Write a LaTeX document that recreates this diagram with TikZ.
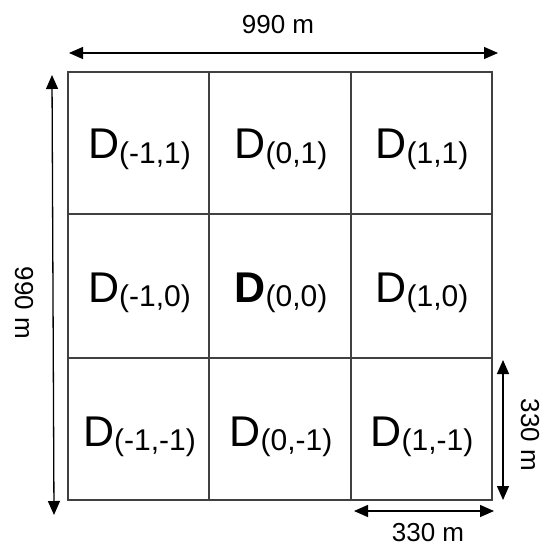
\documentclass[tikz,border=0pt]{standalone}
\usepackage{fontspec}
\setmainfont{Liberation Sans}
\usetikzlibrary{arrows.meta}
\tikzset{
  cellline/.style={draw=black!75, line width=1.3pt},
  dimarrow/.style={draw=black, line width=1.3pt, {Triangle[length=14pt,width=12pt]}-{Triangle[length=14pt,width=12pt]}},
  dimlabel/.style={font=\fontsize{26}{29}\selectfont, inner sep=0pt},
  celllabel/.style={inner sep=0pt, anchor=base, font=\fontsize{43}{48}\selectfont}
}
\newcommand{\cellsub}[1]{\raisebox{-4.5pt}{\fontsize{30}{34}\selectfont #1}}
\begin{document}
\begin{tikzpicture}[x=1pt,y=-1pt]
\useasboundingbox (0,0) rectangle (544,548);
\fill[white] (0,0) rectangle (544,548);
% grid
\coordinate (tl) at (68,72);
\coordinate (br) at (492,500);
\draw[cellline] (tl) rectangle (br);
\draw[cellline] (209,72) -- (209,500);
\draw[cellline] (351,72) -- (351,500);
\draw[cellline] (68,214) -- (492,214);
\draw[cellline] (68,358) -- (492,358);
% labels
\node[celllabel] (m1p1) at (139.5,159) {D\cellsub{(-1,1)}};
\node[celllabel] (z0p1) at (281,159) {D\cellsub{(0,1)}};
\node[celllabel] (p1p1) at (422,159) {D\cellsub{(1,1)}};
\node[celllabel] (m1z0) at (139.5,302) {D\cellsub{(-1,0)}};
\node[celllabel] (z0z0) at (281,302) {\textbf{D}\cellsub{(0,0)}};
\node[celllabel] (p1z0) at (422,302) {D\cellsub{(1,0)}};
\node[celllabel] (m1m1) at (139.5,446) {D\cellsub{(-1,-1)}};
\node[celllabel] (z0m1) at (281,446) {D\cellsub{(0,-1)}};
\node[celllabel] (p1m1) at (422,446) {D\cellsub{(1,-1)}};
% dimension arrows
\coordinate (ta) at (69,53);
\coordinate (tb) at (498,53);
\draw[dimarrow] (ta) -- (tb);
\node[dimlabel] (tlab) at (278,25) {990 m};
\coordinate (la) at (52,75);
\coordinate (lb) at (54,515);
\draw[dimarrow] (la) -- (lb);
\node[dimlabel, rotate=-90] (llab) at (24,303) {990 m};
\coordinate (ra) at (503,360);
\coordinate (rb) at (503,500);
\draw[dimarrow] (ra) -- (rb);
\node[dimlabel, rotate=-90] (rlab) at (530,435) {330 m};
\coordinate (ba) at (354,511);
\coordinate (bb) at (494,511);
\draw[dimarrow] (ba) -- (bb);
\node[dimlabel] (blab) at (428,533) {330 m};
\end{tikzpicture}
\end{document}
